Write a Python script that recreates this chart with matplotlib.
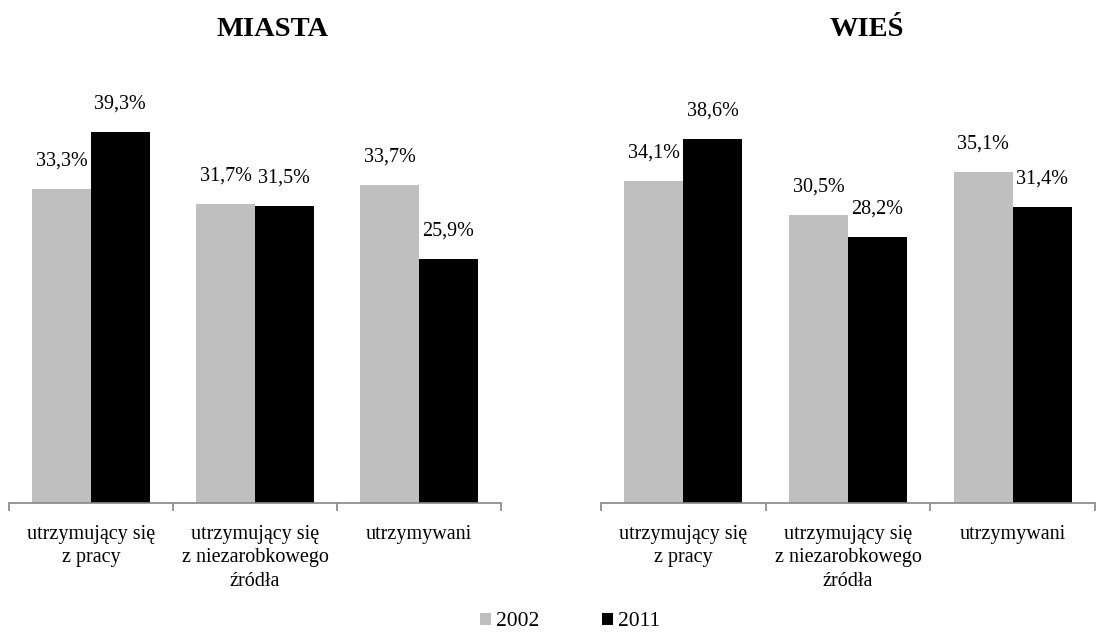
import matplotlib
matplotlib.use("Agg")
import matplotlib.pyplot as plt
from matplotlib.patches import Patch
import numpy as np

plt.rcParams['font.family'] = ['Liberation Serif', 'DejaVu Serif']

categories = ["utrzymujący się\nz pracy", "utrzymujący się\nz niezarobkowego\nźródła", "utrzymywani"]
years = ["2002", "2011"]
miasta_2002 = [33.3, 31.7, 33.7]
miasta_2011 = [39.3, 31.5, 25.9]
wies_2002 = [34.1, 30.5, 35.1]
wies_2011 = [38.6, 28.2, 31.4]
titles = ["MIASTA", "WIEŚ"]

GRAY = "#BFBFBF"
BLACK = "#000000"
AXIS = "#868686"

W, H = 1118, 634
fig = plt.figure(figsize=(W / 100, H / 100), dpi=100)

def fx(px):
    return px / W

def fy(py):
    return 1 - py / H

base = 503
top = base - 45 * 9.44
ax1 = fig.add_axes([fx(9), fy(base), fx(501 - 9), (base - top) / H])
ax2 = fig.add_axes([fx(601), fy(base), fx(1095 - 601), (base - top) / H])

bw = 0.358
x = np.arange(len(categories))

def fmt(v):
    return f"{v:.1f}".replace(".", ",") + "%"

for ax, a, b in [(ax1, miasta_2002, miasta_2011), (ax2, wies_2002, wies_2011)]:
    r1 = ax.bar(x - bw / 2, a, bw, color=GRAY, linewidth=0)
    r2 = ax.bar(x + bw / 2, b, bw, color=BLACK, linewidth=0)
    ax.bar_label(r1, labels=[fmt(v) for v in a], padding=13, fontsize=14.5)
    ax.bar_label(r2, labels=[fmt(v) for v in b], padding=13, fontsize=14.5)
    ax.set_xlim(-0.5, 2.5)
    ax.set_ylim(0, 45)
    ax.set_yticks([])
    for s in ["left", "right", "top"]:
        ax.spines[s].set_visible(False)
    ax.spines["bottom"].set_color(AXIS)
    ax.spines["bottom"].set_linewidth(1.2)
    ax.set_xticks(x)
    ax.set_xticklabels(categories, fontsize=14.5, linespacing=1.3)
    ax.tick_params(axis="x", which="major", length=0, pad=16)
    ax.set_xticks([-0.5, 0.5, 1.5, 2.5], minor=True)
    ax.tick_params(axis="x", which="minor", length=6, width=1.2, color=AXIS)

fig.text(fx(273), fy(29), titles[0], ha="center", va="center", fontsize=20.5, fontweight="bold")
fig.text(fx(867), fy(29), titles[1], ha="center", va="center", fontsize=20.5, fontweight="bold")

handles = [Patch(facecolor=GRAY, edgecolor="none"), Patch(facecolor=BLACK, edgecolor="none")]
fig.legend(handles, years, loc="center", bbox_to_anchor=(fx(570), fy(622)), ncol=2,
           frameon=False, fontsize=15.5, handlelength=0.5, handleheight=0.5,
           handletextpad=0.25, columnspacing=2.9, borderpad=0.1)

fig.savefig("out.png", dpi=100)
